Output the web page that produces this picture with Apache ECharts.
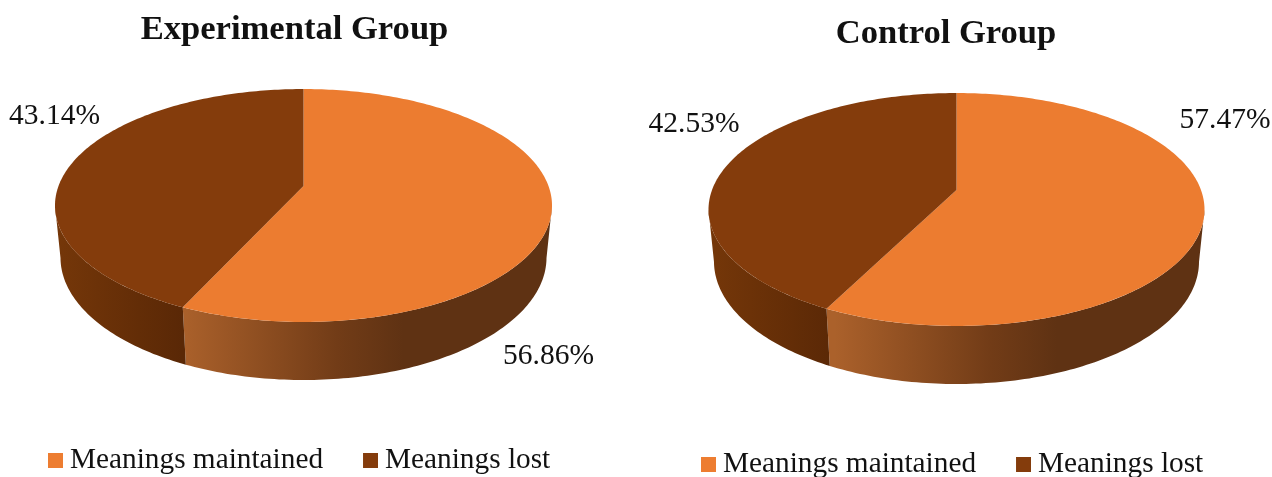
<!DOCTYPE html>
<html>
<head>
<meta charset="utf-8">
<style>html,body{margin:0;padding:0;background:#fff}#c{width:1272px;height:477px}</style>
<script src="https://cdn.jsdelivr.net/npm/echarts@6/dist/echarts.min.js"></script>
</head>
<body>
<div id="c"></div>
<script>
// ---- data ----
const groups = ['Experimental Group', 'Control Group'];
const categories = ['Meanings maintained', 'Meanings lost'];
const maintained = [56.86, 57.47];
const lost = [43.14, 42.53];

// ---- style and layout ----
const FONT = '"Liberation Serif", "Times New Roman", serif';
const topColors = ['#EC7C30', '#843C0C'];
const legendColors = ['#ED7D31', '#843C0C'];
const discs = [{ x: 303.5, y: 186, a: 245 }, { x: 956.5, y: 190, a: 244.5 }];
// Projection of the unit disc in a tilted view
const P = { b: 113.2, k: 0.1674, depth: 52.6, m: 0.022 };
const SILHOUETTE = Math.acos(-P.k) * 180 / Math.PI;
const percentLabels = [
  [{ x: 548.5, y: 356 }, { x: 54.5, y: 116 }],
  [{ x: 1225, y: 120.5 }, { x: 694, y: 124 }]
];

function project(disc, deg, lower) {
  const t = deg * Math.PI / 180;
  const u = Math.sin(t), v = -Math.cos(t);
  const w = 1 / (1 - P.k * v + (lower ? P.m : 0));
  return [disc.x + disc.a * u * w, disc.y + (P.b * v + (lower ? P.depth : 0)) * w];
}
function arc(disc, from, to, lower) {
  const pts = [];
  const n = Math.max(2, Math.ceil(Math.abs(to - from)));
  for (let i = 0; i <= n; i++) pts.push(project(disc, from + (to - from) * i / n, lower));
  return pts;
}
function wallFill(seriesIndex, disc) {
  const x0 = seriesIndex === 0 ? disc.x - 122 : disc.x - 248;
  const x1 = seriesIndex === 0 ? disc.x + 100 : disc.x - 122;
  const stops = seriesIndex === 0
    ? [{ offset: 0, color: '#AB612B' }, { offset: 0.7, color: '#723C17' }, { offset: 1, color: '#5F3213' }]
    : [{ offset: 0, color: '#753709' }, { offset: 1, color: '#5A2806' }];
  return new echarts.graphic.LinearGradient(x0, 0, x1, 0, stops, true);
}
function renderSlice(params, api) {
  const s = params.seriesIndex, g = params.dataIndex;
  const disc = discs[g];
  const total = maintained[g] + lost[g];
  const start = s === 0 ? 0 : maintained[g] / total * 360;
  const end = s === 0 ? maintained[g] / total * 360 : 360;
  const value = api.value(0);
  // side wall: only the part that faces the viewer, up to the silhouette edge
  const wFrom = Math.max(start, SILHOUETTE), wTo = Math.min(end, 360 - SILHOUETTE);
  const wall = arc(disc, wFrom, wTo, false).concat(arc(disc, wFrom, wTo, true).reverse());
  const top = [[disc.x, disc.y]].concat(arc(disc, start, end, false));
  const lab = percentLabels[g][s];
  return {
    type: 'group',
    children: [
      { type: 'polygon', shape: { points: wall }, style: { fill: wallFill(s, disc) }, z2: 1 },
      { type: 'polygon', shape: { points: top }, style: { fill: topColors[s] }, z2: 2 },
      { type: 'text', x: lab.x, y: lab.y, z2: 3,
        style: { text: value.toFixed(2) + '%', font: '29.5px ' + FONT, fill: '#111', align: 'center', verticalAlign: 'middle' } }
    ]
  };
}

const chart = echarts.init(document.getElementById('c'), null, { renderer: 'canvas' });
const legendBase = {
  data: categories, selectedMode: false, icon: 'rect', itemWidth: 15, itemHeight: 15,
  itemGap: 40, padding: 0, orient: 'horizontal',
  textStyle: { fontFamily: FONT, fontSize: 29.3, color: '#111', padding: [0, 0, 0, 2] }
};
chart.setOption({
  animation: false,
  backgroundColor: '#fff',
  color: legendColors,
  title: [
    { text: groups[0], left: 294.5, top: 13, textAlign: 'center', padding: 0,
      textStyle: { fontFamily: FONT, fontWeight: 'bold', fontSize: 34.6, color: '#111' } },
    { text: groups[1], left: 946, top: 17, textAlign: 'center', padding: 0,
      textStyle: { fontFamily: FONT, fontWeight: 'bold', fontSize: 34.6, color: '#111' } }
  ],
  legend: [
    Object.assign({}, legendBase, { left: 48, top: 446 }),
    Object.assign({}, legendBase, { left: 701, top: 450 })
  ],
  series: categories.map((name, i) => ({
    type: 'custom',
    name: name,
    coordinateSystem: 'none',
    silent: true,
    itemStyle: { color: legendColors[i] },
    renderItem: renderSlice,
    data: (i === 0 ? maintained : lost).map(v => [v])
  }))
});
</script>
</body>
</html>
